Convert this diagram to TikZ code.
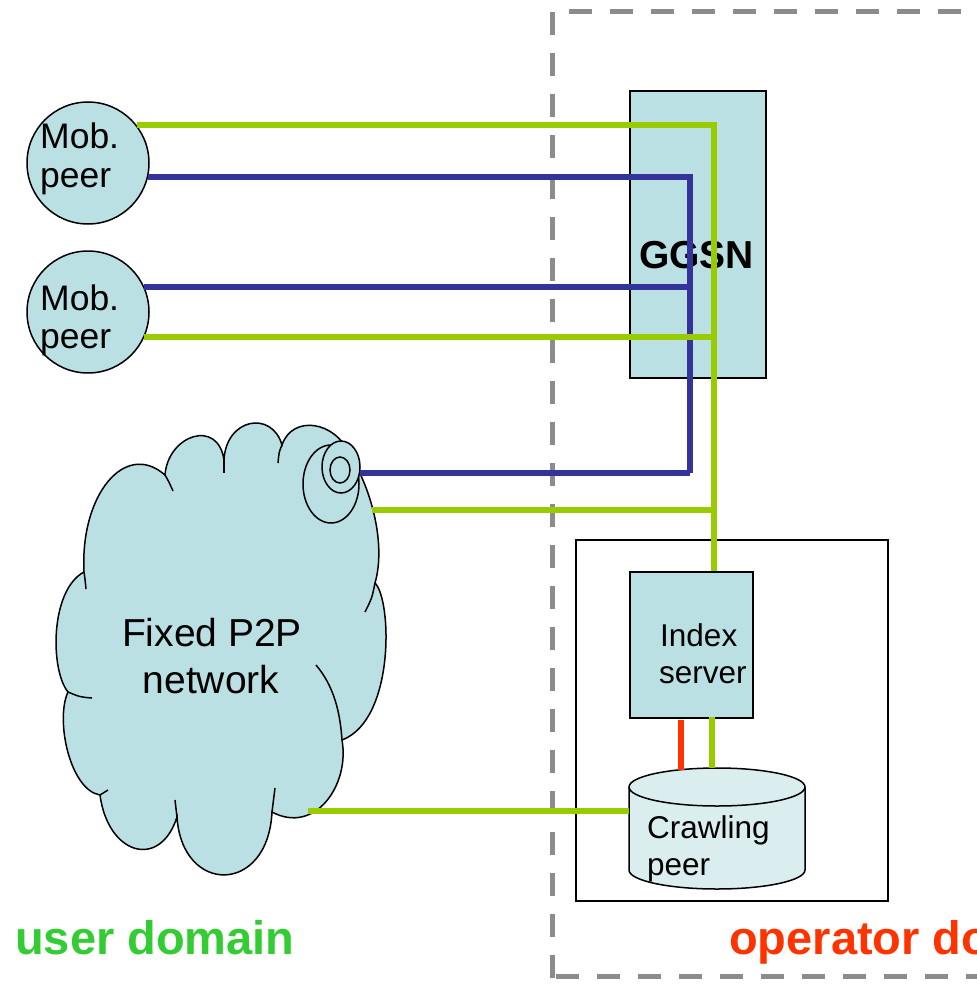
\documentclass[tikz,border=0pt]{standalone}
\usepackage{fontspec}
\setmainfont{Liberation Sans}
\definecolor{peerfill}{HTML}{BBE0E3}
\definecolor{cylfill}{HTML}{DAEEF0}
\definecolor{lgreen}{HTML}{99CC00}
\definecolor{dblue}{HTML}{333399}
\definecolor{redline}{HTML}{FF3300}
\definecolor{dashgray}{HTML}{8C8C8C}
\definecolor{usergreen}{HTML}{33CC33}
\definecolor{opred}{HTML}{FF3300}
\tikzset{
  peer/.style={circle, draw=black, line width=1.5pt, fill=peerfill, minimum size=122pt, inner sep=0pt},
  boxnode/.style={rectangle, draw=black, line width=1.5pt, fill=peerfill, inner sep=0pt, anchor=north west},
  txt/.style={anchor=base west, inner sep=0pt},
  bigtxt/.style={txt, font=\fontsize{35.5}{40}\selectfont},
  midtxt/.style={txt, font=\fontsize{31.5}{36}\selectfont},
  domlabel/.style={txt, font=\fontsize{47}{52}\selectfont\bfseries},
  gline/.style={draw=lgreen, line width=6pt},
  bline/.style={draw=dblue, line width=5.5pt},
  rline/.style={draw=redline, line width=6pt},
  outline/.style={draw=black, line width=1.5pt},
  framedash/.style={draw=dashgray, line width=5pt, dash pattern=on 23pt off 18pt},
}
\begin{document}
\begin{tikzpicture}[x=1pt, y=-1pt]
\useasboundingbox (0,0) rectangle (977,988);

% operator domain frame
\draw[framedash] (552,978) -- (552,11) -- (1100,11);
\draw[framedash] (556,976) -- (1100,976);

% box around index server and crawling peer
\draw[outline] (576,540) rectangle (888,901);

% GGSN
\node[boxnode, minimum width=136pt, minimum height=287pt] (ggsn) at (629,90) {};
\node[txt, font=\fontsize{39}{44}\selectfont\bfseries] (ggsnlbl) at (639,268) {GGSN};

% index server
\node[boxnode, minimum width=123pt, minimum height=146pt] (idx) at (629,571) {};
\node[midtxt] (idxa) at (660,646) {Index};
\node[midtxt] (idxb) at (659,683) {server};

% crawling peer (cylinder)
\node[inner sep=0pt, minimum width=176pt, minimum height=122pt, anchor=north west] (crawl) at (629,768) {};
\path[outline, fill=cylfill] (629,787) -- (629,870) arc[start angle=180, end angle=0, x radius=88, y radius=19] -- (805,787) arc[start angle=0, end angle=-180, x radius=88, y radius=19] -- cycle;
\draw[outline] (629,787) arc[start angle=180, end angle=0, x radius=88, y radius=19];
\node[midtxt] (crawla) at (647,838) {Crawling};
\node[midtxt] (crawlb) at (647,875) {peer};

% fixed P2P network cloud
\path[outline, fill=peerfill] (84,572)
  .. controls (80,495) and (125,440) .. (165,475)
  .. controls (168,435) and (218,418) .. (224,460)
  .. controls (226,418) and (272,410) .. (282,445)
  .. controls (292,415) and (335,420) .. (350,455)
  .. controls (372,490) and (386,545) .. (375,583)
  .. controls (392,600) and (395,720) .. (342,740)
  .. controls (350,785) and (315,835) .. (272,812)
  .. controls (268,895) and (182,895) .. (177,817)
  .. controls (160,870) and (108,855) .. (100,795)
  .. controls (70,790) and (55,720) .. (68,692)
  .. controls (50,670) and (50,590) .. (84,572) -- cycle;
% inner strokes of the cloud bumps
\draw[outline] (84,572) .. controls (85,579) .. (86,589);
\draw[outline] (165,475) .. controls (169,482) .. (173,491);
\draw[outline] (224,460) -- (224,473);
\draw[outline] (282,445) .. controls (279,452) .. (278,463);
\draw[outline] (375,583) .. controls (372,598) .. (365,612);
\draw[outline] (316,665) .. controls (333,685) and (340,710) .. (342,740);
\draw[outline] (272,812) .. controls (274,800) .. (275,788);
\draw[outline] (177,817) .. controls (176,808) .. (175,800);
\draw[outline] (100,795) .. controls (104,792) .. (108,790);
\draw[outline] (68,692) .. controls (80,697) .. (92,698);
% peer icon on the cloud
\draw[outline, fill=peerfill] (331,484) ellipse[x radius=28, y radius=39];
\draw[outline, fill=peerfill] (341,467) ellipse[x radius=19, y radius=26];
\draw[outline] (340,470) ellipse[x radius=10, y radius=13];
\node[font=\fontsize{39}{44}\selectfont, anchor=base, inner sep=0pt] (cloudA) at (212,646) {Fixed P2P};
\node[font=\fontsize{39}{44}\selectfont, anchor=base, inner sep=0pt] (cloudB) at (211,693) {network};

% mobile peers
\node[peer] (mob1) at (88,163) {};
\node[bigtxt] (mob1a) at (40,148) {Mob.};
\node[bigtxt] (mob1b) at (40,187) {peer};
\node[peer] (mob2) at (88,312) {};
\node[bigtxt] (mob2a) at (40,310) {Mob.};
\node[bigtxt] (mob2b) at (40,348) {peer};

% connector attachment points
\coordinate (gcol) at (714,126);
\coordinate (bcol) at (690,177);
\coordinate (iconb) at (360,473);
\coordinate (cloudg) at (372,510);
\coordinate (cloudl) at (308,811);
\coordinate (rtop) at (681,720);
\coordinate (rbot) at (681,770);
\coordinate (gtop) at (712,717);
\coordinate (gbot) at (712,768);

% blue links
\draw[bline] (mob1.-13) -| (bcol |- iconb);
\draw[bline] (mob2.24) -- (mob2.24 -| bcol);
\draw[bline] (iconb) -- (iconb -| bcol);
% green links
\draw[gline] (mob1.38) -| (gcol |- idx.north);
\draw[gline] (mob2.-24) -- (mob2.-24 -| gcol);
\draw[gline] (cloudg) -- (cloudg -| gcol);
\draw[gline] (cloudl) -- (crawl.west |- cloudl);
\draw[gline] (gtop) -- (gbot);
\draw[rline] (rtop) -- (rbot);

% domain labels
\node[domlabel, text=usergreen] (userdom) at (15,954) {user domain};
\node[domlabel, text=opred] (opdom) at (729,954) {operator domain};
\end{tikzpicture}
\end{document}
